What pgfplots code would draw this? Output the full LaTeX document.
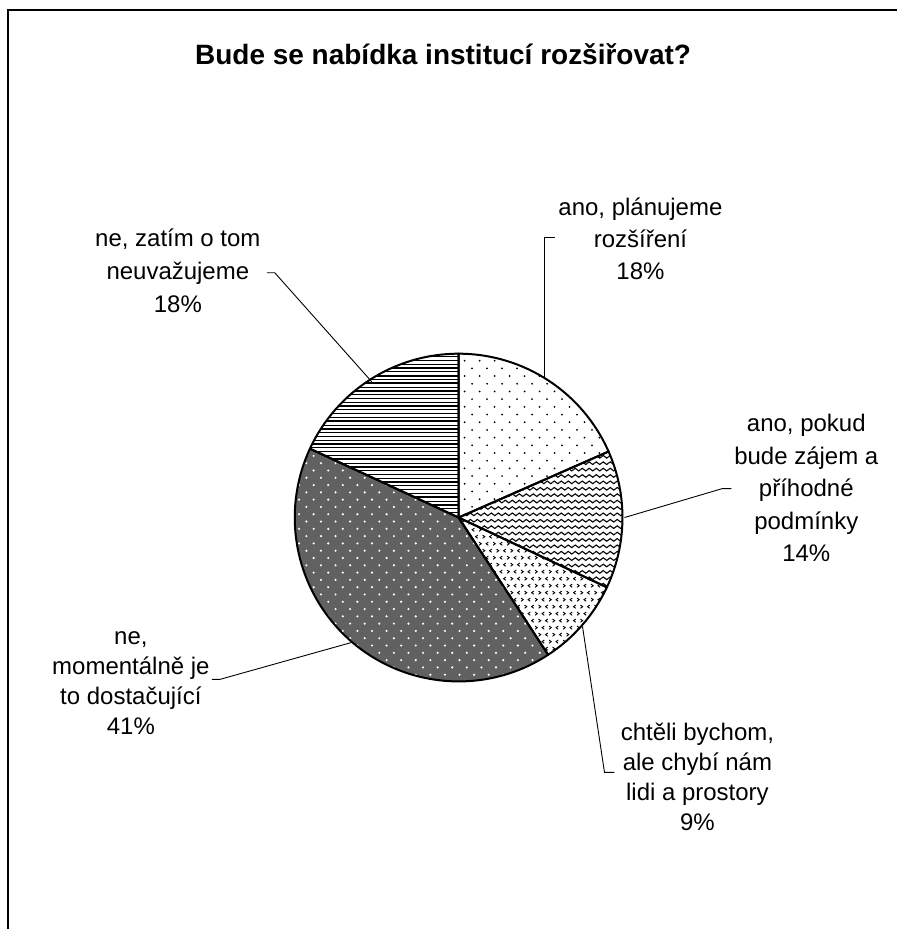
\documentclass[border=0pt]{standalone}
\usepackage{fontspec}
\setmainfont{Liberation Sans}
\usepackage{pgfplots}
\usepackage{pgfplotstable}
\pgfplotsset{compat=1.18}
\usetikzlibrary{patterns}

% slice fills (one pixel = one bp)
\pgfdeclarepatternformonly{sparsedots}{\pgfpoint{-1bp}{-1bp}}{\pgfpoint{16bp}{16.4bp}}{\pgfpoint{15bp}{15.4bp}}{%
  \pgfpathcircle{\pgfpoint{0bp}{0bp}}{1bp}%
  \pgfpathcircle{\pgfpoint{7.5bp}{7.7bp}}{1bp}%
  \pgfusepath{fill}}
\pgfdeclarepatternformonly{waves}{\pgfpoint{-0.5bp}{-2bp}}{\pgfpoint{7.5bp}{2bp}}{\pgfpoint{7bp}{6.4bp}}{%
  \pgfsetlinewidth{1.1bp}%
  \pgfpathmoveto{\pgfpoint{0bp}{0bp}}%
  \pgfpathsine{\pgfpoint{1.75bp}{1.3bp}}%
  \pgfpathcosine{\pgfpoint{1.75bp}{-1.3bp}}%
  \pgfpathsine{\pgfpoint{1.75bp}{-1.3bp}}%
  \pgfpathcosine{\pgfpoint{1.75bp}{1.3bp}}%
  \pgfusepath{stroke}}
\pgfdeclarepatternformonly{chevrons}{\pgfpoint{-1bp}{-1bp}}{\pgfpoint{15bp}{15bp}}{\pgfpoint{14bp}{14bp}}{%
  \pgfsetlinewidth{0.9bp}%
  \pgfpathmoveto{\pgfpoint{2.2bp}{0bp}}\pgfpathlineto{\pgfpoint{0bp}{1.6bp}}\pgfpathlineto{\pgfpoint{2.2bp}{3.2bp}}%
  \pgfpathmoveto{\pgfpoint{7bp}{0bp}}\pgfpathlineto{\pgfpoint{9.2bp}{1.6bp}}\pgfpathlineto{\pgfpoint{7bp}{3.2bp}}%
  \pgfpathmoveto{\pgfpoint{3.5bp}{7bp}}\pgfpathlineto{\pgfpoint{5.7bp}{8.6bp}}\pgfpathlineto{\pgfpoint{3.5bp}{10.2bp}}%
  \pgfpathmoveto{\pgfpoint{12.7bp}{7bp}}\pgfpathlineto{\pgfpoint{10.5bp}{8.6bp}}\pgfpathlineto{\pgfpoint{12.7bp}{10.2bp}}%
  \pgfusepath{stroke}}
\pgfdeclarepatternformonly{whitedots}{\pgfpoint{-1bp}{-1bp}}{\pgfpoint{15.6bp}{15.6bp}}{\pgfpoint{14.6bp}{14.6bp}}{%
  \pgfpathcircle{\pgfpoint{0bp}{0bp}}{1.2bp}%
  \pgfpathcircle{\pgfpoint{7.3bp}{7.3bp}}{1.2bp}%
  \pgfusepath{fill}}
\pgfdeclarepatternformonly{hlines}{\pgfpoint{-1bp}{-1bp}}{\pgfpoint{1bp}{7.6bp}}{\pgfpoint{1bp}{7.6bp}}{%
  \pgfsetlinewidth{1.7bp}%
  \pgfpathmoveto{\pgfpoint{-1bp}{0bp}}\pgfpathlineto{\pgfpoint{1bp}{0bp}}\pgfusepath{stroke}%
  \pgfsetlinewidth{0.9bp}%
  \pgfpathmoveto{\pgfpoint{-1bp}{3.8bp}}\pgfpathlineto{\pgfpoint{1bp}{3.8bp}}\pgfusepath{stroke}}

\pgfplotstableread{
label value
A 18.4
B 13.6
C 8.8
D 41.1
E 18.1
}\piedata

\newcommand\lblfont{\fontsize{24bp}{32bp}\selectfont}
\newcommand\lbl[3]{\node[anchor=base, inner sep=0pt, font=\lblfont] at (axis cs:#1,#2) {#3};}
\newcommand\slice[3]{% start, end, style
  \path[#3] (axis cs:459,412) -- ([shift={(#1:164bp)}]axis cs:459,412)
    arc[start angle=#1, end angle=#2, radius=164bp] -- cycle;}

\begin{document}
\begin{tikzpicture}
% cumulative angles, clockwise from 12 o'clock
\pgfplotstablegetelem{0}{value}\of\piedata \pgfmathsetmacro\aA{90-3.6*\pgfplotsretval}
\pgfplotstablegetelem{1}{value}\of\piedata \pgfmathsetmacro\aB{\aA-3.6*\pgfplotsretval}
\pgfplotstablegetelem{2}{value}\of\piedata \pgfmathsetmacro\aC{\aB-3.6*\pgfplotsretval}
\pgfplotstablegetelem{3}{value}\of\piedata \pgfmathsetmacro\aD{\aC-3.6*\pgfplotsretval}
\pgfplotstablegetelem{4}{value}\of\piedata \pgfmathsetmacro\aE{\aD-3.6*\pgfplotsretval}
\begin{axis}[
    hide axis,
    x=1bp, y=1bp,
    xmin=0, xmax=898, ymin=0, ymax=930,
    clip=false,
]
\path (axis cs:0,0) rectangle (axis cs:898,930);
% frame (only top and left edges are in view)
\draw[line width=1.6bp] (axis cs:8,0) -- (axis cs:8,920) -- (axis cs:898,920);

\node[anchor=base, inner sep=0pt, font=\bfseries\fontsize{28bp}{34bp}\selectfont]
  at (axis cs:443.5,865) {Bude se nabídka institucí rozšiřovat?};

% slices
\slice{90}{\aA}{fill=white, postaction={pattern=sparsedots}}
\slice{\aA}{\aB}{fill=white, postaction={pattern=waves}}
\slice{\aB}{\aC}{fill=white, postaction={pattern=chevrons}}
\slice{\aC}{\aD}{fill=black!62, postaction={pattern=whitedots, pattern color=white}}
\slice{\aD}{\aE}{fill=white, postaction={pattern=hlines}}
\slice{90}{\aA}{draw=black, line width=2bp, line join=round}
\slice{\aA}{\aB}{draw=black, line width=2bp, line join=round}
\slice{\aB}{\aC}{draw=black, line width=2bp, line join=round}
\slice{\aC}{\aD}{draw=black, line width=2bp, line join=round}
\slice{\aD}{\aE}{draw=black, line width=2bp, line join=round}

% leader lines
\draw[line width=0.9bp] (axis cs:555,692) -- (axis cs:545,692) -- (axis cs:545,552);
\draw[line width=0.9bp] (axis cs:732,441) -- (axis cs:723,441) -- (axis cs:625,412);
\draw[line width=0.9bp] (axis cs:615,157) -- (axis cs:605,157) -- (axis cs:583,303);
\draw[line width=0.9bp] (axis cs:212,250) -- (axis cs:220,250) -- (axis cs:352,287);
\draw[line width=0.9bp] (axis cs:267,657) -- (axis cs:275,657) -- (axis cs:372,548);

% data labels
\lbl{641}{714}{ano, plánujeme}
\lbl{641}{682}{rozšíření}
\lbl{641}{650}{18\%}
\lbl{807}{498}{ano, pokud}
\lbl{807}{465.5}{bude zájem a}
\lbl{807}{433}{příhodné}
\lbl{807}{400.5}{podmínky}
\lbl{807}{368}{14\%}
\lbl{698}{189}{chtěli bychom,}
\lbl{698}{159}{ale chybí nám}
\lbl{698}{129}{lidi a prostory}
\lbl{698}{99}{9\%}
\lbl{131}{285}{ne,}
\lbl{131}{255}{momentálně je}
\lbl{131}{225}{to dostačující}
\lbl{131}{195}{41\%}
\lbl{178}{683}{ne, zatím o tom}
\lbl{178}{650}{neuvažujeme}
\lbl{178}{617}{18\%}
\end{axis}
\end{tikzpicture}
\end{document}
